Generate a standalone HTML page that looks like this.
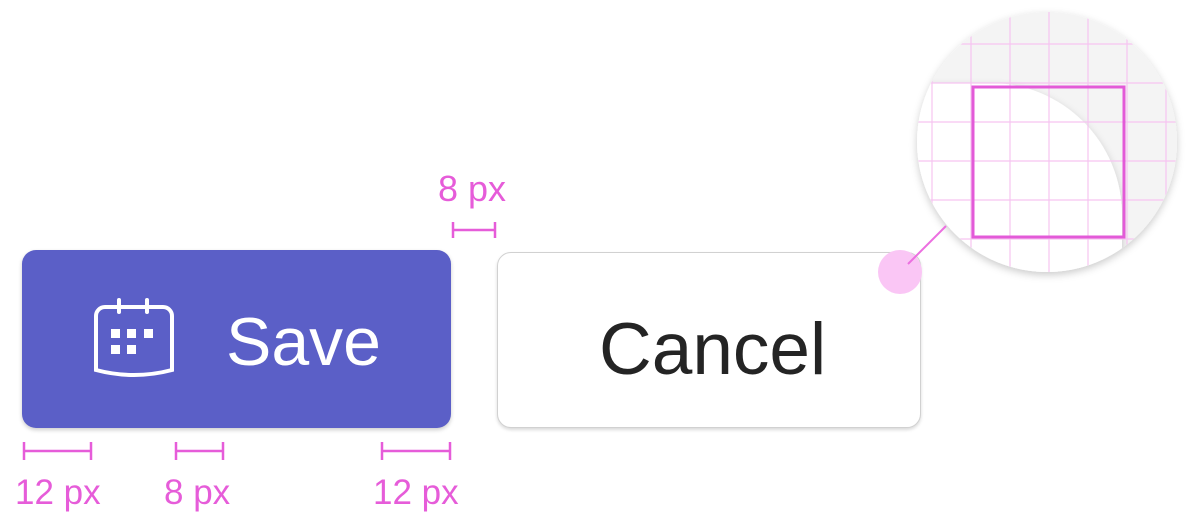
<!DOCTYPE html>
<html><head><style>
html,body{margin:0;padding:0;background:#fff;width:1200px;height:516px;overflow:hidden;position:relative;font-family:"Liberation Sans",sans-serif}
.a{position:absolute}
.lbl{position:absolute;color:#e65cd9;font-size:35px;white-space:nowrap;line-height:1}
</style></head><body>
<div class="a" style="left:22px;top:250px;width:429px;height:178px;background:#5b5fc7;border-radius:14px;box-shadow:0 2px 4px rgba(0,0,0,.2)"></div>
<svg class="a" style="left:0;top:0" width="1200" height="516">
  <g fill="none" stroke="#fff" stroke-width="4" stroke-linecap="round">
    <path d="M96 316 a9 9 0 0 1 9-9 h58 a9 9 0 0 1 9 9 v54 q-38 10-76 0 z"/>
    <line x1="119" y1="300" x2="119" y2="312"/><line x1="147" y1="300" x2="147" y2="312"/>
  </g>
  <g fill="#fff">
    <rect x="111" y="329" width="9" height="9"/><rect x="127" y="329" width="9" height="9"/><rect x="144" y="329" width="9" height="9"/>
    <rect x="111" y="345" width="9" height="9"/><rect x="127" y="345" width="9" height="9"/>
  </g>
  <text x="226" y="365" fill="#fff" font-family="Liberation Sans" font-size="68">Save</text>
  <defs><clipPath id="c"><circle cx="1047" cy="142" r="130"/></clipPath>
  <filter id="s" x="-20%" y="-20%" width="140%" height="140%"><feDropShadow dx="0" dy="3" stdDeviation="4" flood-opacity=".2"/></filter></defs>
  <circle cx="1047" cy="142" r="130" fill="#f4f4f4" filter="url(#s)"/>
  <g clip-path="url(#c)">
    <path d="M900 83 H990 A132 132 0 0 1 1122 215 V300 H900 Z" fill="#fff" filter="url(#s)"/>
    <g stroke="#f6c4f1" stroke-width="1.2">
      <line x1="932" y1="0" x2="932" y2="300"/><line x1="971" y1="0" x2="971" y2="300"/><line x1="1010" y1="0" x2="1010" y2="300"/><line x1="1049" y1="0" x2="1049" y2="300"/><line x1="1088" y1="0" x2="1088" y2="300"/><line x1="1127" y1="0" x2="1127" y2="300"/><line x1="1166" y1="0" x2="1166" y2="300"/>
      <line x1="900" y1="44" x2="1200" y2="44"/><line x1="900" y1="83" x2="1200" y2="83"/><line x1="900" y1="122" x2="1200" y2="122"/><line x1="900" y1="161" x2="1200" y2="161"/><line x1="900" y1="200" x2="1200" y2="200"/><line x1="900" y1="239" x2="1200" y2="239"/>
    </g>
    <rect x="973" y="87" width="151" height="150" fill="none" stroke="#e35ad8" stroke-width="3"/>
  </g>
</svg>
<div class="a" style="left:497px;top:252px;width:422px;height:174px;background:#fff;border:1px solid #d1d1d1;border-radius:14px;box-shadow:0 2px 3px rgba(0,0,0,.15)"></div>
<svg class="a" style="left:0;top:0" width="1200" height="516">
  <text x="599" y="374" fill="#242424" font-family="Liberation Sans" font-size="73">Cancel</text>
  <circle cx="900" cy="272" r="22" fill="#fac6f5"/>
  <line x1="908" y1="264" x2="946" y2="226" stroke="#ec6fe0" stroke-width="2"/>
  <g stroke="#e65cd9" stroke-width="2.5">
    <line x1="453" y1="230" x2="495" y2="230"/><line x1="453" y1="222" x2="453" y2="238"/><line x1="495" y1="222" x2="495" y2="238"/>
    <line x1="23" y1="451" x2="91" y2="451"/><line x1="24" y1="442" x2="24" y2="460"/><line x1="91" y1="442" x2="91" y2="460"/>
    <line x1="175" y1="451" x2="223" y2="451"/><line x1="176" y1="442" x2="176" y2="460"/><line x1="223" y1="442" x2="223" y2="460"/>
    <line x1="381" y1="451" x2="450" y2="451"/><line x1="382" y1="442" x2="382" y2="460"/><line x1="450" y1="442" x2="450" y2="460"/>
  </g>
</svg>
<div class="lbl" style="left:438px;top:171px;font-size:36px">8 px</div>
<div class="lbl" style="left:15px;top:475px">12 px</div>
<div class="lbl" style="left:164px;top:475px">8 px</div>
<div class="lbl" style="left:373px;top:475px">12 px</div>
</body></html>
